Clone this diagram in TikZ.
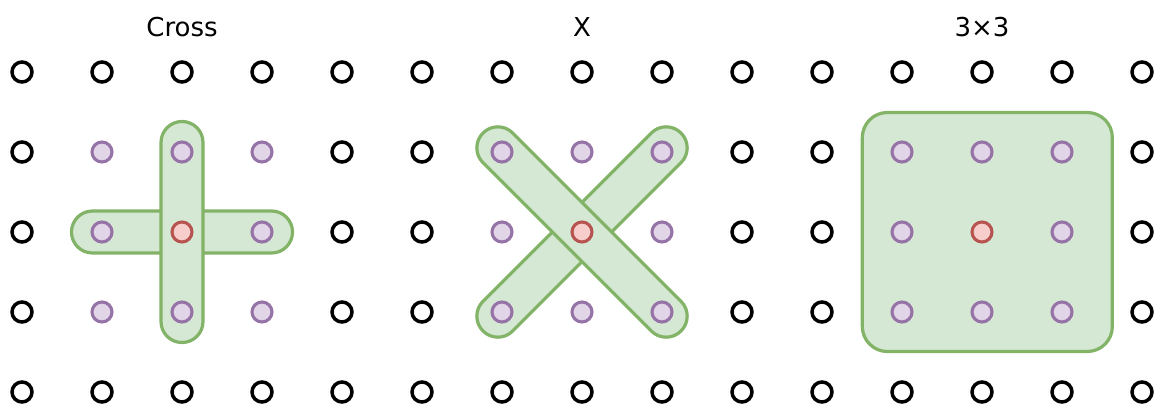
\documentclass[tikz,border=0pt]{standalone}
\usepackage{fontspec}
\setmainfont{DejaVu Sans}
\usetikzlibrary{backgrounds}
\definecolor{nbfill}{HTML}{E1D5E7}
\definecolor{nbline}{HTML}{9673A6}
\definecolor{ctrfill}{HTML}{F8CECC}
\definecolor{ctrline}{HTML}{B85450}
\definecolor{krnfill}{HTML}{D5E8D4}
\definecolor{krnline}{HTML}{82B366}

\begin{document}
\begin{tikzpicture}[x=0.75pt, y=-0.75pt,
    pt/.style={circle, draw=black, fill=white, line width=2.6pt,
               minimum size=15pt, inner sep=0pt},
    nb/.style={pt, draw=nbline, fill=nbfill, line width=2.3pt},
    ctr/.style={pt, draw=ctrline, fill=ctrfill, line width=2.3pt},
    bar/.style={draw=krnline, fill=krnfill, line width=2.4pt,
                minimum height=31.5pt, rounded corners=15.7pt,
                inner sep=0pt, outer sep=0pt},
    box/.style={bar, minimum width=187.5pt, minimum height=179.25pt,
                rounded corners=18.75pt},
    title/.style={font=\fontsize{19.5}{23}\selectfont}]
  \useasboundingbox (0,0) rectangle (1164,415);
  % grid of pixels
  \foreach \c in {1,...,15}
    \foreach \r in {1,...,5} {
      \pgfmathtruncatemacro\isnb{(\r>1)*(\r<5)*(((\c>1)*(\c<5))+((\c>6)*(\c<10))+((\c>11)*(\c<15)))}
      \pgfmathtruncatemacro\isctr{(\r==3)*((\c==3)+(\c==8)+(\c==13))}
      \def\kind{pt}
      \ifnum\isnb=1 \def\kind{nb}\fi
      \ifnum\isctr=1 \def\kind{ctr}\fi
      \node[\kind] (p-\c-\r) at ({22+80*(\c-1)}, {72+80*(\r-1)}) {};
    }
  % kernels
  \begin{scope}[on background layer]
    \fill[white] (0,0) rectangle (1164,415);
    \node[bar, minimum width=165.75pt] (cross-h) at (p-3-3) {};
    \node[bar, minimum width=165.75pt, rotate=90] (cross-v) at (p-3-3) {};
    \node[bar, minimum width=210pt, rotate=45] (x-up) at (p-8-3) {};
    \node[bar, minimum width=210pt, rotate=-45] (x-down) at (p-8-3) {};
    \node[box] (full) at ([xshift=4pt]p-13-3) {};
  \end{scope}
  % titles
  \node[title] (t-cross) at (182,27) {Cross};
  \node[title] (t-x) at (582,27) {X};
  \node[title] (t-full) at (982,27) {3×3};
\end{tikzpicture}
\end{document}
